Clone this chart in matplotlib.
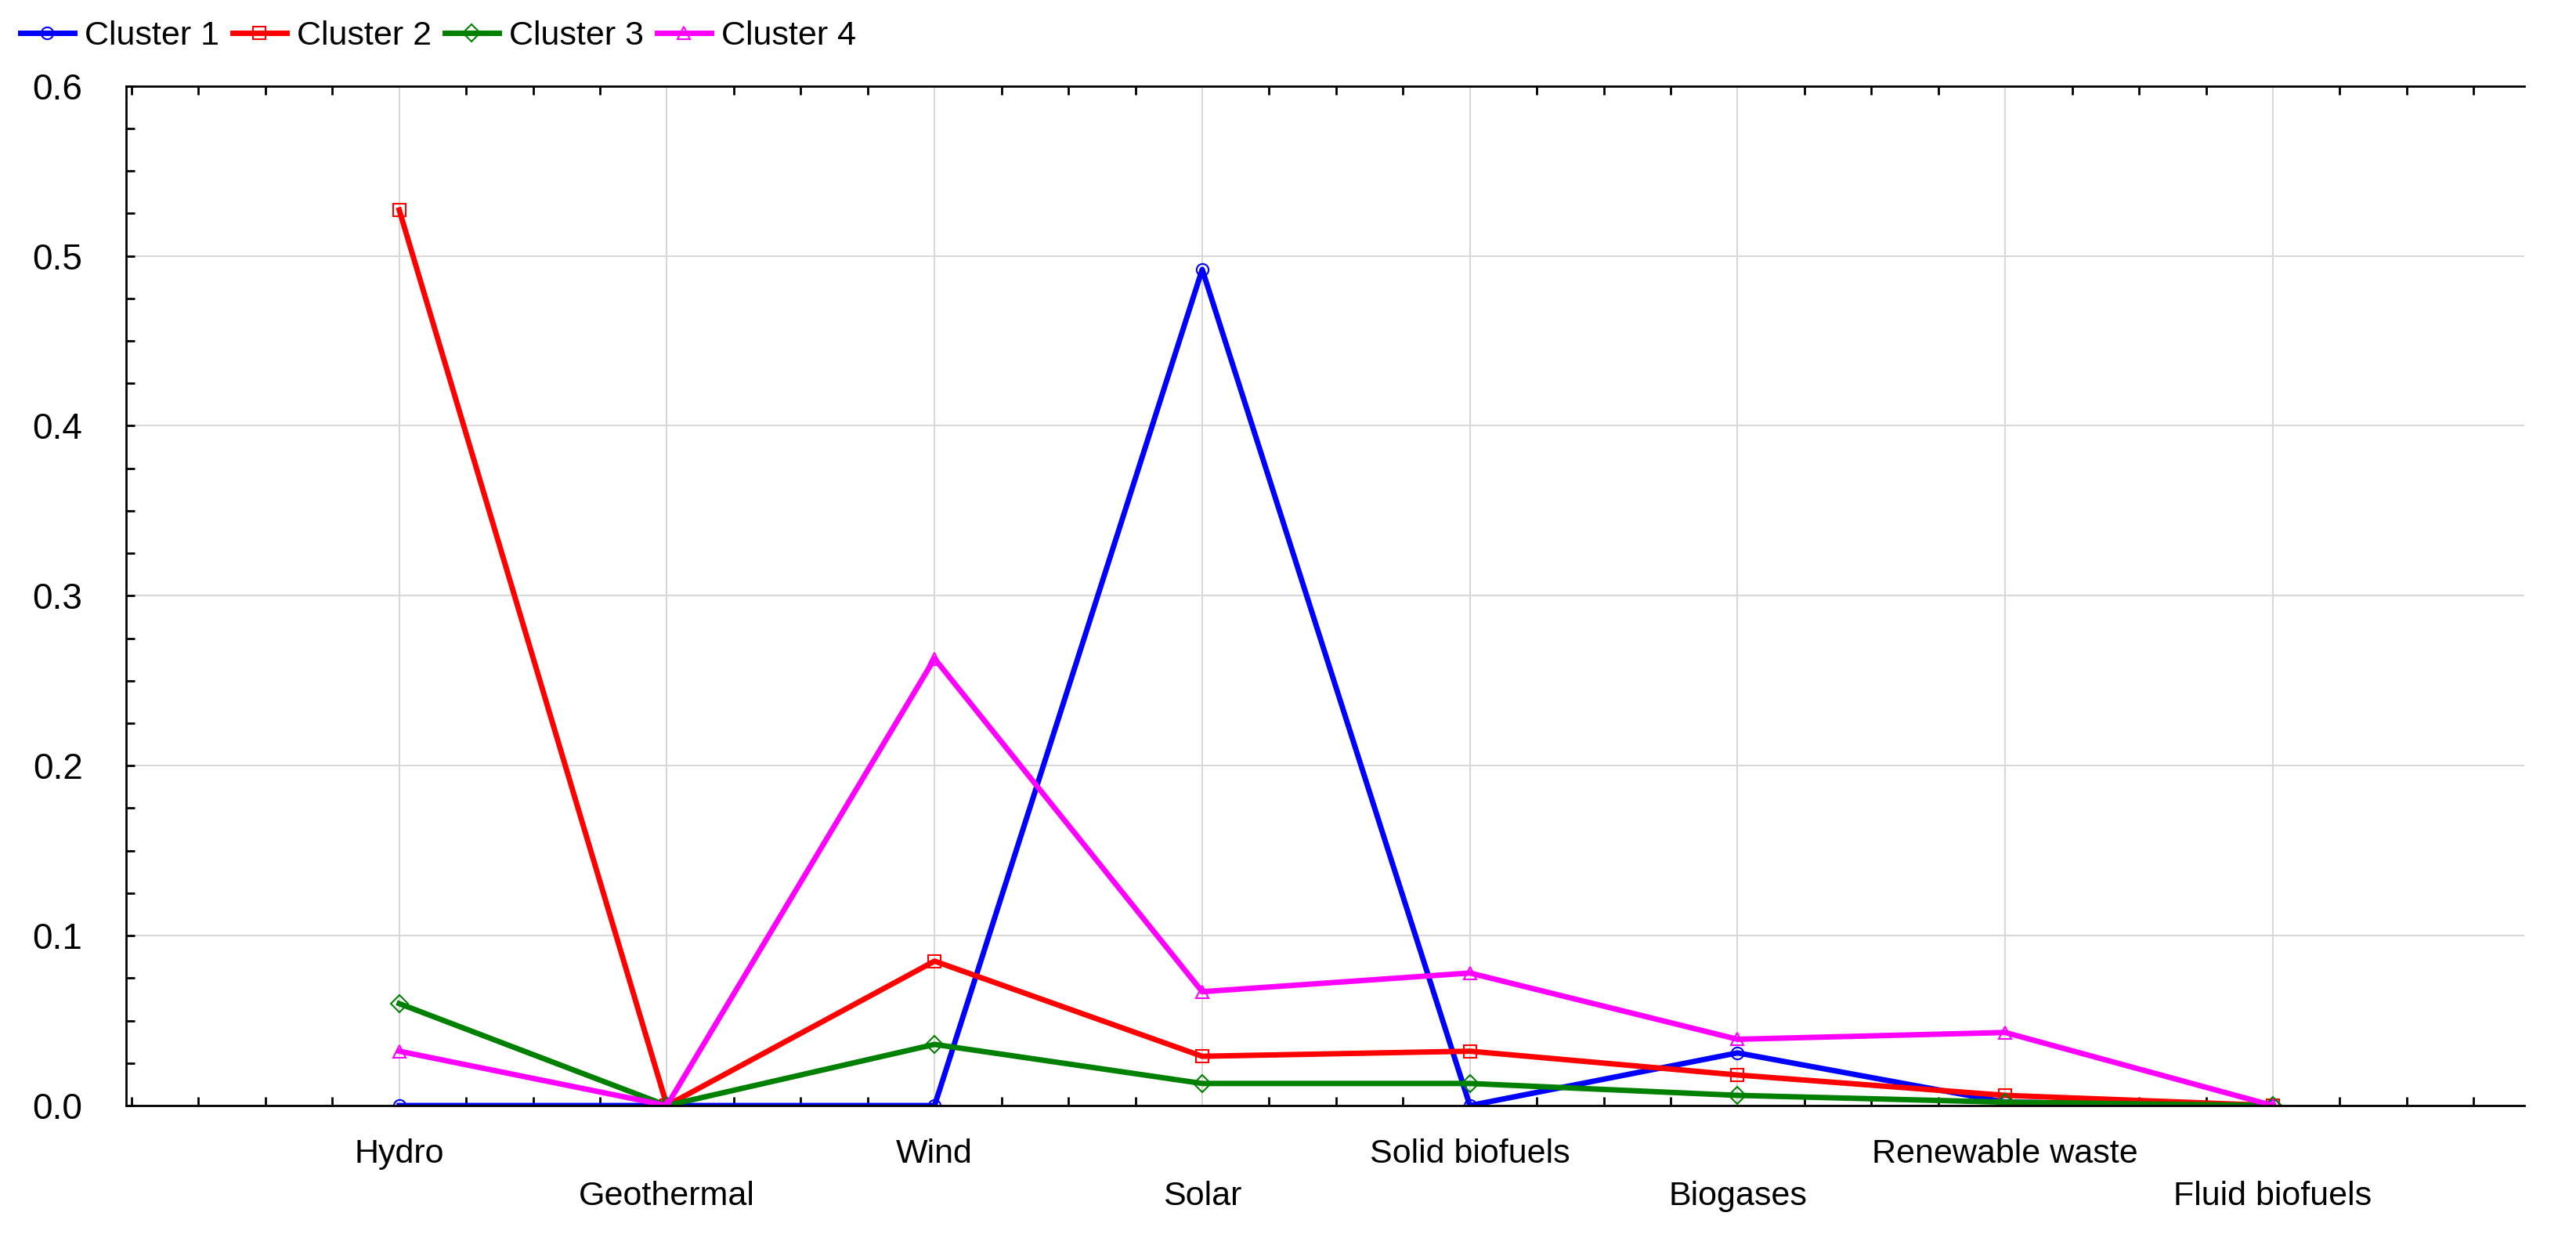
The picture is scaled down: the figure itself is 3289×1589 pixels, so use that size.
import matplotlib
matplotlib.use("Agg")
import matplotlib.pyplot as plt
from matplotlib.ticker import MultipleLocator

plt.rcParams['font.family'] = ['Liberation Sans', 'DejaVu Sans']

categories = ["Hydro", "Geothermal", "Wind", "Solar", "Solid biofuels", "Biogases", "Renewable waste", "Fluid biofuels"]
cluster1 = [0.0, 0.0, 0.0, 0.492, 0.0, 0.031, 0.002, 0.0]
cluster2 = [0.527, 0.0, 0.085, 0.029, 0.032, 0.018, 0.006, 0.0]
cluster3 = [0.060, 0.0, 0.036, 0.013, 0.013, 0.006, 0.002, 0.0]
cluster4 = [0.032, 0.0, 0.263, 0.067, 0.078, 0.039, 0.043, 0.0]
series = [("Cluster 1", cluster1, "#0000ff", "o"), ("Cluster 2", cluster2, "#ff0000", "s"),
          ("Cluster 3", cluster3, "#008000", "D"), ("Cluster 4", cluster4, "#ff00ff", "^")]

fig = plt.figure(figsize=(32.89, 15.89), dpi=100)
ax = fig.add_axes([0.049, 0.112, 0.931, 0.819])
x = list(range(len(categories)))
for name, vals, c, m in series:
    ax.plot(x, vals, color=c, lw=5, marker=m, ms=11, mfc="none", mec=c, mew=1.5, label=name)

ax.set_xlim(-1.02, 7.94)
ax.set_ylim(0, 0.6)
ax.set_xticks(x)
ax.set_xticklabels(["\n" + c if i % 2 else c for i, c in enumerate(categories)], fontsize=31,
                   linespacing=1.45)
ax.xaxis.set_minor_locator(MultipleLocator(0.25))
ax.yaxis.set_major_locator(MultipleLocator(0.1))
ax.yaxis.set_minor_locator(MultipleLocator(0.025))
ax.set_yticklabels([f"{v:.1f}" for v in ax.get_yticks()], fontsize=33)
ax.tick_params(axis="both", which="both", direction="in", top=True, right=False, length=8, width=2)
ax.tick_params(axis="x", which="major", length=0, pad=30)
ax.tick_params(axis="y", which="major", pad=40)
ax.grid(True, which="major", color="#d8d8d8", lw=1.5)
for s in ax.spines.values():
    s.set_linewidth(2)
ax.spines["right"].set_visible(False)

fig.legend(loc="upper left", bbox_to_anchor=(0.0, 1.0), ncol=4, frameon=False, fontsize=31,
           handlelength=1.6, columnspacing=0.4, handletextpad=0.3, borderaxespad=0.2)
fig.savefig("out.png", dpi=100, facecolor="white")
